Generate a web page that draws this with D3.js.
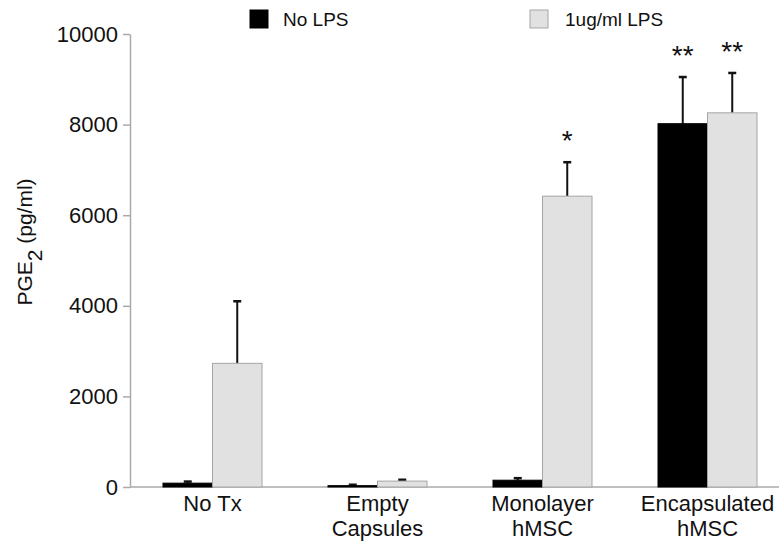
<!DOCTYPE html>
<html>
<head>
<meta charset="utf-8">
<script src="https://cdn.jsdelivr.net/npm/d3@7"></script>
<style>
  body { margin: 0; background: #fff; }
  text { font-family: "Liberation Sans", Arial, sans-serif; fill: #111; }
</style>
</head>
<body>
<svg id="chart" width="779" height="542"></svg>
<script>
// data
var categories = [["No Tx"], ["Empty", "Capsules"], ["Monolayer", "hMSC"], ["Encapsulated", "hMSC"]];
var seriesNames = ["No LPS", "1ug/ml LPS"];
var noLps = [85, 30, 150, 8020];
var noLpsErr = [35, 20, 45, 1030];
var lps = [2730, 130, 6420, 8260];
var lpsErr = [1370, 30, 750, 880];
var stars = [["", ""], ["", ""], ["", "*"], ["**", "**"]];
var yTicks = [0, 2000, 4000, 6000, 8000, 10000];

var colors = ["#000", "#e1e1e1"];
var strokes = ["#000", "#a5a5a5"];

var svg = d3.select("#chart");
var plotLeft = 130, plotBottom = 487, plotTop = 34;

var x = d3.scaleBand()
  .domain(d3.range(categories.length))
  .range([plotLeft, 790])
  .paddingInner(0.4)
  .paddingOuter(0.2);
var half = x.bandwidth() / 2;

var y = d3.scaleLinear().domain([0, 10000]).range([plotBottom, plotTop]);

// y axis
var yAxis = svg.append("g")
  .attr("transform", "translate(" + plotLeft + ",0)")
  .call(d3.axisLeft(y).tickValues(yTicks).tickFormat(d3.format("d"))
    .tickSize(7).tickSizeOuter(0).tickPadding(5));
yAxis.select(".domain").attr("stroke", "#aaa").attr("stroke-width", 1.5);
yAxis.selectAll(".tick line").attr("stroke", "#aaa").attr("stroke-width", 1.5);
yAxis.selectAll(".tick text").style("font-size", "22px").style("font-family", "Liberation Sans, Arial, sans-serif").attr("fill", "#111");

// x baseline
svg.append("line")
  .attr("x1", plotLeft).attr("x2", 779)
  .attr("y1", y(0)).attr("y2", y(0))
  .attr("stroke", "#aaa").attr("stroke-width", 1.5);

var rows = categories.map(function(c, i) {
  return [
    {i: i, s: 0, v: noLps[i], e: noLpsErr[i], star: stars[i][0]},
    {i: i, s: 1, v: lps[i], e: lpsErr[i], star: stars[i][1]}
  ];
});
var all = d3.merge(rows);

function bx(d) { return x(d.i) + d.s * half; }

// error bars (upper only)
svg.selectAll(".err")
  .data(all)
  .enter()
  .append("line")
  .attr("class", "err")
  .attr("x1", function(d) { return bx(d) + half / 2; })
  .attr("x2", function(d) { return bx(d) + half / 2; })
  .attr("y1", function(d) { return y(d.v); })
  .attr("y2", function(d) { return y(d.v + d.e); })
  .attr("stroke", "#111").attr("stroke-width", 2);

svg.selectAll(".cap")
  .data(all)
  .enter()
  .append("line")
  .attr("class", "cap")
  .attr("x1", function(d) { return bx(d) + half / 2 - 4; })
  .attr("x2", function(d) { return bx(d) + half / 2 + 4; })
  .attr("y1", function(d) { return y(d.v + d.e); })
  .attr("y2", function(d) { return y(d.v + d.e); })
  .attr("stroke", "#111").attr("stroke-width", 2.5);

// bars
svg.selectAll(".bar")
  .data(all)
  .enter()
  .append("rect")
  .attr("class", "bar")
  .attr("x", bx)
  .attr("y", function(d) { return y(d.v); })
  .attr("width", half)
  .attr("height", function(d) { return y(0) - y(d.v); })
  .attr("fill", function(d) { return colors[d.s]; })
  .attr("stroke", function(d) { return strokes[d.s]; })
  .attr("stroke-width", 1);

// significance stars
svg.selectAll(".star")
  .data(all.filter(function(d) { return d.star; }))
  .enter()
  .append("text")
  .attr("class", "star")
  .attr("x", function(d) { return bx(d) + half / 2; })
  .attr("y", function(d) { return y(d.v + d.e) - 12; })
  .attr("text-anchor", "middle")
  .style("font-size", "28px")
  .text(function(d) { return d.star; });

// category labels
var lab = svg.selectAll(".cat")
  .data(categories)
  .enter()
  .append("text")
  .attr("class", "cat")
  .attr("text-anchor", "middle")
  .style("font-size", "22px");
lab.selectAll("tspan")
  .data(function(d, i) { return d.map(function(t) { return {t: t, i: i}; }); })
  .enter()
  .append("tspan")
  .attr("x", function(d) { return x(d.i) + x.bandwidth() / 2; })
  .attr("y", function(d, j) { return 511 + j * 25; })
  .text(function(d) { return d.t; });

// y label
var yl = svg.append("text")
  .attr("transform", "translate(32,242) rotate(-90)")
  .attr("text-anchor", "middle")
  .style("font-size", "21px");
yl.append("tspan").text("PGE");
yl.append("tspan").attr("dy", 10).text("2");
yl.append("tspan").attr("dy", -10).text("\u00a0(pg/ml)");

// legend
var legX = [250, 530];
var leg = svg.selectAll(".leg")
  .data(seriesNames)
  .enter()
  .append("g")
  .attr("class", "leg")
  .attr("transform", function(d, i) { return "translate(" + legX[i] + ",10)"; });
leg.append("rect")
  .attr("width", 18).attr("height", 18)
  .attr("fill", function(d, i) { return colors[i]; })
  .attr("stroke", function(d, i) { return strokes[i]; });
leg.append("text")
  .attr("x", function(d, i) { return i ? 35 : 33; })
  .attr("y", 16)
  .style("font-size", "19px")
  .text(function(d) { return d; });
</script>
</body>
</html>
